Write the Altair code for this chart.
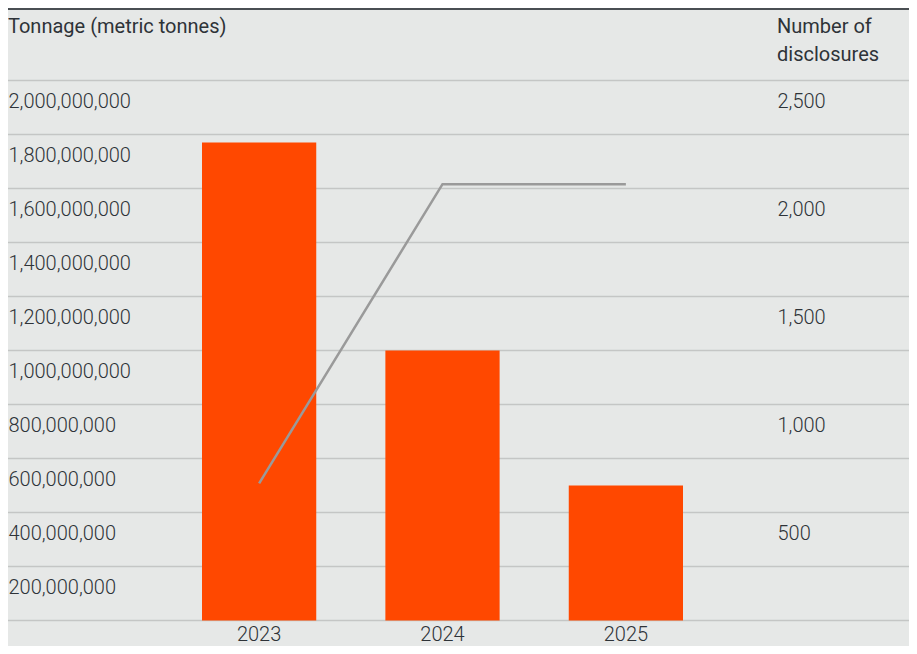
import altair as alt
import pandas as pd

years = ["2023", "2024", "2025"]
tonnage = [1770000000, 1000000000, 500000000]
disclosures = [635, 2020, 2020]
left_ticks = [0, 200000000, 400000000, 600000000, 800000000, 1000000000,
              1200000000, 1400000000, 1600000000, 1800000000, 2000000000]
right_ticks = [0, 500, 1000, 1500, 2000, 2500]

df = pd.DataFrame({"year": years, "tonnage": tonnage, "disclosures": disclosures})
grid_df = pd.DataFrame({"g": left_ticks})

BG = "#e6e8e7"
TXT = "#2e3338"
FONT = "Roboto"
FS = 20
W, H = 901, 540

xscale = alt.Scale(domain=years, range=[194, 675], paddingInner=0.377, paddingOuter=0)
xenc = alt.X("year:N", scale=xscale, title=None,
             axis=alt.Axis(labelAngle=0, ticks=False, domain=False, labelPadding=14,
                           labelFontSize=FS, labelFont=FONT, labelFontWeight=300,
                           labelColor=TXT, labelBaseline="middle"))

yscale_t = alt.Scale(domain=[0, 2000000000], nice=False)
left_axis = alt.Axis(orient="left", values=left_ticks, format=",d",
                     labelExpr="datum.value == 0 ? '' : datum.label",
                     ticks=False, domain=False, grid=False,
                     labelAlign="left", labelPadding=0,
                     labelBaseline="middle", labelOffset=21,
                     labelFontSize=FS, labelFont=FONT, labelFontWeight=300,
                     labelColor=TXT)

grid = alt.Chart(grid_df).mark_rule(color="#c4c6c5", strokeWidth=1.5).encode(
    x=alt.value(0), x2=alt.value(W),
    y=alt.Y("g:Q", scale=yscale_t, title=None, axis=left_axis),
)

bars = alt.Chart(df).mark_bar(color="#ff4800").encode(
    x=xenc,
    y=alt.Y("tonnage:Q", scale=yscale_t, title=None, axis=left_axis),
)

line = alt.Chart(df).mark_line(color="#9a9a9a", strokeWidth=2.5).encode(
    x=alt.X("year:N", scale=xscale),
    y=alt.Y("disclosures:Q", scale=alt.Scale(domain=[0, 2500], nice=False), title=None,
            axis=alt.Axis(orient="right", values=right_ticks, format=",d",
                          labelExpr="datum.value == 0 ? '' : datum.label",
                          ticks=False, domain=False, grid=False,
                          labelAlign="left", offset=-132, labelPadding=0,
                          labelBaseline="middle", labelOffset=21,
                          labelFontSize=FS, labelFont=FONT, labelFontWeight=300,
                          labelColor=TXT)),
)

topline = alt.Chart(df).mark_rule(color="#4a4f53", strokeWidth=2).encode(
    x=alt.value(0), x2=alt.value(W), y=alt.value(-71.5)
)

titles_df = pd.DataFrame({
    "t": ["Tonnage (metric tonnes)", "Number of", "disclosures"],
    "px": [0, 769, 769],
    "py": [-53.5, -53.5, -25.5],
})
titles = alt.Chart(titles_df).mark_text(
    align="left", baseline="middle", fontSize=FS, font=FONT, color=TXT, fontWeight=400
).encode(
    x=alt.X("px:Q", scale=alt.Scale(domain=[0, W], range=[0, W]), axis=None),
    y=alt.Y("py:Q", scale=alt.Scale(domain=[0, H], range=[0, H]), axis=None),
    text="t:N",
)

inner = alt.layer(grid, bars).resolve_scale(y="shared")
chart = alt.layer(inner, line).resolve_scale(y="independent")
chart = alt.layer(chart, topline, titles).resolve_scale(y="independent", x="shared")

chart = chart.properties(
    width=W, height=H,
    background=BG,
    padding={"left": 0, "right": 0, "top": 72.5, "bottom": 25.5},
    autosize=alt.AutoSizeParams(type="none"),
).configure_view(stroke=None)

chart.save("out.html", embed_options={"renderer": "svg", "actions": False})
